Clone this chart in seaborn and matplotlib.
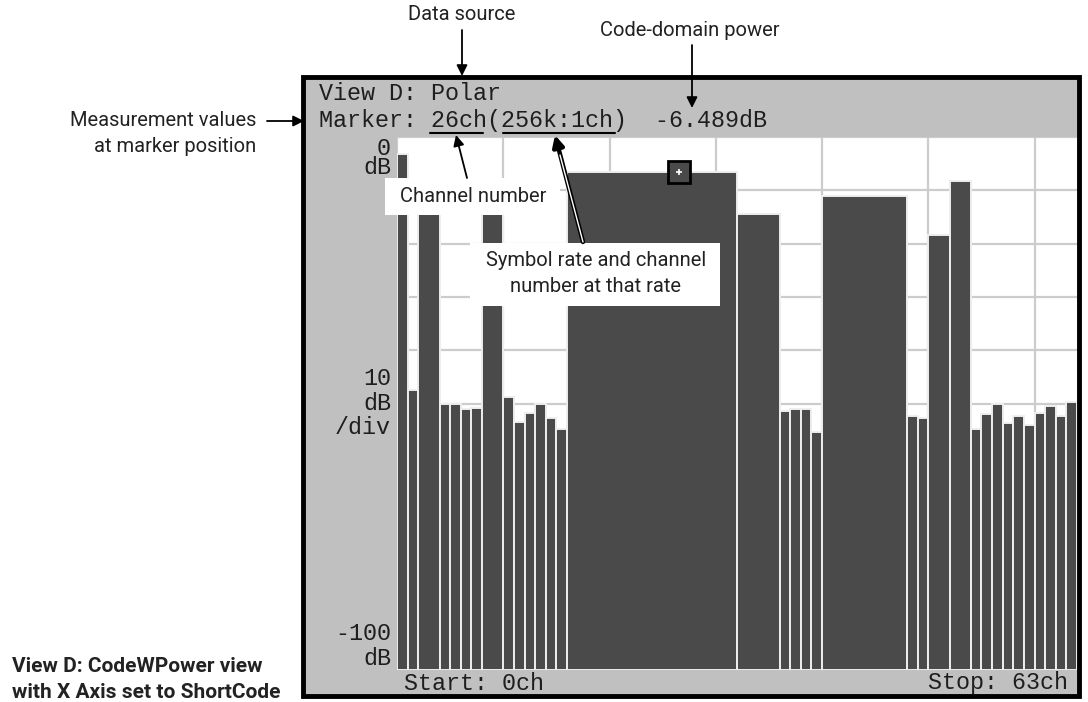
#!/usr/bin/env python3
import matplotlib

matplotlib.use("Agg")
import matplotlib.pyplot as plt
import numpy as np
import pandas as pd
import seaborn as sns
from matplotlib import font_manager
from matplotlib.lines import Line2D
from matplotlib.patches import FancyArrowPatch, Rectangle

W, H = 1088, 702

# Code-domain power, one entry per bar (wide bars cover several short-code channels)
CHANNEL_START = [0, 1, 2, 4, 5, 6, 7, 8, 10, 11, 12, 13, 14, 15, 16, 32, 36, 37,
                 38, 39, 40, 48, 49, 50, 52, 54, 55, 56, 57, 58, 59, 60, 61, 62, 63]
CHANNEL_SPAN = [1, 1, 2, 1, 1, 1, 1, 2, 1, 1, 1, 1, 1, 1, 16, 4, 1, 1,
                1, 1, 8, 1, 1, 2, 2, 1, 1, 1, 1, 1, 1, 1, 1, 1, 1]
POWER_DB = [-3.2, -47.5, -11.8, -50.1, -50.1, -51.1, -50.8, -12.5, -48.7, -53.4,
            -51.7, -50.1, -52.8, -54.7, -6.489, -14.4, -51.4, -51.1, -51.1, -55.3,
            -11.1, -52.4, -52.8, -18.4, -8.2, -54.7, -52.0, -50.1, -53.7, -52.4,
            -54.0, -51.7, -50.4, -52.4, -49.8]
N_CHANNELS = 64
REF_DB = -100
MARKER_CH = 26
MARKER_DB = -6.489

sns.set_theme(style="white")
names = {f.name for f in font_manager.fontManager.ttflist}
MONO = "Liberation Mono" if "Liberation Mono" in names else "DejaVu Sans Mono"
NARROW = "Liberation Sans Narrow" if "Liberation Sans Narrow" in names else "Roboto"
plt.rcParams["font.family"] = [NARROW, "DejaVu Sans"]
ANN = 16.5 if NARROW == "Liberation Sans Narrow" else 14.5
SCR = 16.8
DARK = "#4a4a4a"


def fx(x):
    return x / W


def fy(y):
    return 1 - y / H


fig = plt.figure(figsize=(W / 100, H / 100), dpi=100)
fig.patch.set_facecolor("white")

# instrument screen frame
fig.add_artist(Rectangle((fx(303), fy(696)), fx(1079) - fx(303), fy(77) - fy(696),
                         transform=fig.transFigure, facecolor="#c0c0c0",
                         edgecolor="black", lw=3.5, zorder=-2))

ax = fig.add_axes([fx(397), fy(670), fx(1077) - fx(397), fy(137) - fy(670)])
ax.set_facecolor("white")

df = pd.DataFrame({"start": CHANNEL_START, "span": CHANNEL_SPAN, "power": POWER_DB})
df["center"] = df["start"] + df["span"] / 2
df["level"] = df["power"] - REF_DB
edges = CHANNEL_START + [N_CHANNELS]

sns.histplot(data=df, x="center", weights="level", bins=edges, color=DARK,
             edgecolor="#eeeeee", linewidth=1.4, alpha=1, ax=ax)

ax.set_xlim(0, N_CHANNELS)
ax.set_ylim(0, -REF_DB)
ax.set_xticks(range(0, N_CHANNELS, 10))
ax.set_yticks(range(0, 101, 10))
ax.set_axisbelow(True)
ax.grid(True, color="#cccccc", lw=1.6)
ax.tick_params(length=0, labelbottom=False, labelleft=False)
ax.set_xlabel("")
ax.set_ylabel("")
for s in ax.spines.values():
    s.set_visible(False)

# marker
ax.plot([MARKER_CH + 0.5], [MARKER_DB - REF_DB], marker="s", ms=16, mfc=DARK,
        mec="black", mew=2, clip_on=False, zorder=5)
ax.plot([MARKER_CH + 0.5], [MARKER_DB - REF_DB], marker="+", ms=5, color="white",
        mew=1.2, clip_on=False, zorder=6)

# screen text
scr = dict(family=MONO, size=SCR, color="#1e1e1e", va="center")
fig.text(fx(319), fy(93), "View D: Polar", **scr)
fig.text(fx(319), fy(120), f"Marker: {MARKER_CH}ch(256k:1ch)  {MARKER_DB:.3f}dB", **scr)
fig.text(fx(391), fy(158), "0\ndB", ha="right", multialignment="right",
         linespacing=0.75, **scr)
fig.text(fx(391), fy(403), "10\ndB\n/div", ha="right", multialignment="right",
         linespacing=1.08, **scr)
fig.text(fx(391), fy(646), "-100\ndB", ha="right", multialignment="right",
         linespacing=1.08, **scr)
fig.text(fx(404), fy(683), "Start: 0ch", **scr)
fig.text(fx(1068), fy(683), "Stop: 63ch", ha="right", **scr)

for x0, x1 in [(430, 483), (503, 615)]:
    fig.add_artist(Line2D([fx(x0), fx(x1)], [fy(133), fy(133)], color="black",
                          lw=1.5, transform=fig.transFigure))

# callout boxes
fig.add_artist(Rectangle((fx(385), fy(215)), fx(560) - fx(385), fy(178) - fy(215),
                         transform=fig.transFigure, facecolor="white", lw=0, zorder=3))
fig.add_artist(Rectangle((fx(470), fy(306)), fx(720) - fx(470), fy(243) - fy(306),
                         transform=fig.transFigure, facecolor="white", lw=0, zorder=3))

ann = dict(size=ANN, color="#222222", va="center", zorder=4)
fig.text(fx(473), fy(197), "Channel number", ha="center", **ann)
fig.text(fx(596), fy(260), "Symbol rate and channel", ha="center", **ann)
fig.text(fx(596), fy(286), "number at that rate", ha="center", **ann)
fig.text(fx(462), fy(15), "Data source", ha="center", **ann)
fig.text(fx(690), fy(30), "Code-domain power", ha="center", **ann)
fig.text(fx(256), fy(121), "Measurement values", ha="right", **ann)
fig.text(fx(256), fy(146), "at marker position", ha="right", **ann)
fig.text(fx(12), fy(667), "View D: CodeWPower view", ha="left", weight="bold",
         **{**ann, "size": ANN + 0.5})
fig.text(fx(12), fy(693), "with X Axis set to ShortCode", ha="left", weight="bold",
         **{**ann, "size": ANN + 0.5})


def arrow(p0, p1, lw=1.3):
    fig.add_artist(FancyArrowPatch((fx(p0[0]), fy(p0[1])), (fx(p1[0]), fy(p1[1])),
                                   transform=fig.transFigure, arrowstyle="-|>",
                                   mutation_scale=16, lw=lw, color="black",
                                   shrinkA=0, shrinkB=0, zorder=6))


arrow((462, 30), (462, 76))
arrow((692, 45), (692, 108))
arrow((267, 121), (304, 121))
arrow((467, 178), (456, 135))
arrow((583, 242), (555, 135), lw=3.2)
# hollow look for the long callout arrow
fig.add_artist(Line2D([fx(583), fx(560)], [fy(242), fy(155)], color="white", lw=1,
                      transform=fig.transFigure, zorder=7))

fig.savefig("out.png", dpi=100)
